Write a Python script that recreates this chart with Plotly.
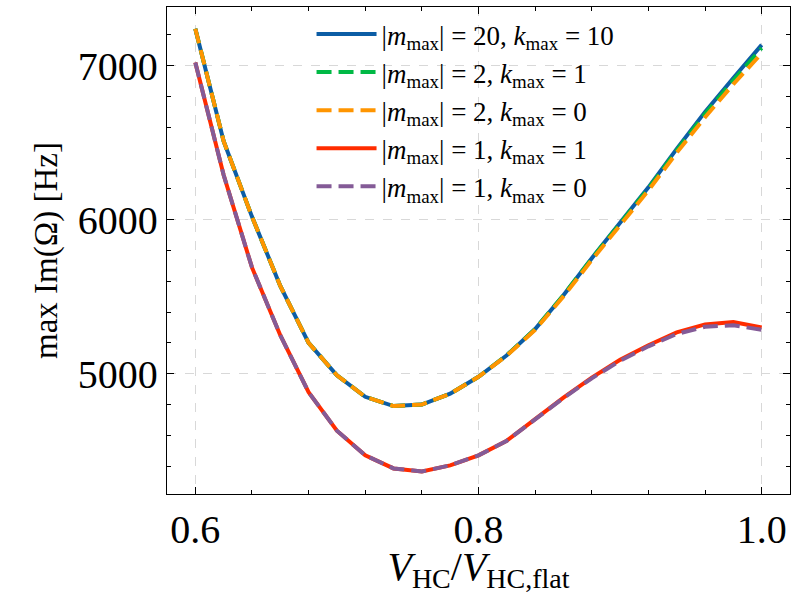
import plotly.graph_objects as go

x_vals = [0.60, 0.62, 0.64, 0.66, 0.68, 0.70, 0.72, 0.74, 0.76, 0.78, 0.80,
          0.82, 0.84, 0.86, 0.88, 0.90, 0.92, 0.94, 0.96, 0.98, 1.00]

m20_k10 = [7240, 6510, 6020, 5570, 5200, 4990, 4850, 4790, 4800, 4870, 4980,
           5120, 5290, 5510, 5750, 5975, 6210, 6460, 6700, 6920, 7135]
m2_k1 = [7240, 6510, 6020, 5570, 5200, 4990, 4850, 4790, 4800, 4870, 4980,
         5120, 5290, 5510, 5748, 5972, 6203, 6450, 6688, 6905, 7115]
m2_k0 = [7240, 6510, 6020, 5570, 5200, 4990, 4850, 4790, 4800, 4870, 4980,
         5118, 5285, 5502, 5738, 5962, 6190, 6435, 6665, 6880, 7080]
m1_k1 = [7020, 6290, 5690, 5250, 4880, 4630, 4470, 4385, 4365, 4405, 4470,
         4565, 4705, 4845, 4975, 5090, 5185, 5268, 5320, 5335, 5300]
m1_k0 = [7020, 6290, 5690, 5250, 4880, 4630, 4470, 4385, 4365, 4405, 4470,
         4565, 4703, 4842, 4970, 5084, 5178, 5258, 5305, 5315, 5285]

names = [
    "|<i>m</i><sub>max</sub>| = 20, <i>k</i><sub>max</sub> = 10",
    "|<i>m</i><sub>max</sub>| = 2, <i>k</i><sub>max</sub> = 1",
    "|<i>m</i><sub>max</sub>| = 2, <i>k</i><sub>max</sub> = 0",
    "|<i>m</i><sub>max</sub>| = 1, <i>k</i><sub>max</sub> = 1",
    "|<i>m</i><sub>max</sub>| = 1, <i>k</i><sub>max</sub> = 0",
]
series = [m20_k10, m2_k1, m2_k0, m1_k1, m1_k0]
colors = ["#0C5DA5", "#00B945", "#FF9500", "#FF2C00", "#845B97"]
dashes = ["solid", "15px,7px", "15px,7px", "solid", "15px,7px"]

x_tickvals = [0.6, 0.8, 1.0]
x_ticktext = ["0.6", "0.8", "1.0"]
y_tickvals = [5000, 6000, 7000]
y_ticktext = ["5000", "6000", "7000"]

FONT = "Liberation Serif"

fig = go.Figure()
for name, ys, c, d in zip(names, series, colors, dashes):
    fig.add_trace(go.Scatter(x=x_vals, y=ys, mode="lines", name=name,
                             line=dict(color=c, width=4, dash=d)))

axis_common = dict(
    showline=True, linecolor="black", linewidth=1.3, mirror="allticks",
    ticks="inside", ticklen=7, tickwidth=1.2, tickcolor="black",
    showgrid=True, gridcolor="#d8d8d8", griddash="dash", gridwidth=1,
    zeroline=False,
    tickfont=dict(family=FONT, size=40, color="black"),
)

fig.update_layout(
    width=797, height=594,
    margin=dict(l=167, r=7, t=6, b=99),
    paper_bgcolor="white", plot_bgcolor="white",
    font=dict(family=FONT, color="black"),
    showlegend=True,
    legend=dict(x=0.232, y=0.994, xanchor="left", yanchor="top",
                bgcolor="rgba(0,0,0,0)", borderwidth=0, itemwidth=60,
                font=dict(family=FONT, size=27, color="black"),
                tracegroupgap=0),
    xaxis=dict(range=[0.58, 1.02], tickvals=x_tickvals, ticktext=x_ticktext,
               minor=dict(dtick=0.04, tick0=0.6, ticks="inside", ticklen=4,
                          tickcolor="black", showgrid=False),
               title=dict(text="<i>V</i><sub>HC</sub>/<i>V</i><sub>HC,flat</sub>",
                          font=dict(family=FONT, size=40), standoff=8),
               **axis_common),
    yaxis=dict(range=[4219, 7381], tickvals=y_tickvals, ticktext=y_ticktext,
               minor=dict(dtick=200, tick0=5000, ticks="inside", ticklen=4,
                          tickcolor="black", showgrid=False),
               title=dict(text="max Im(Ω) [Hz]",
                          font=dict(family=FONT, size=33), standoff=10),
               **axis_common),
)

fig.write_html("out.html", config={"displayModeBar": False},
               post_script="document.body.style.margin='0';")
